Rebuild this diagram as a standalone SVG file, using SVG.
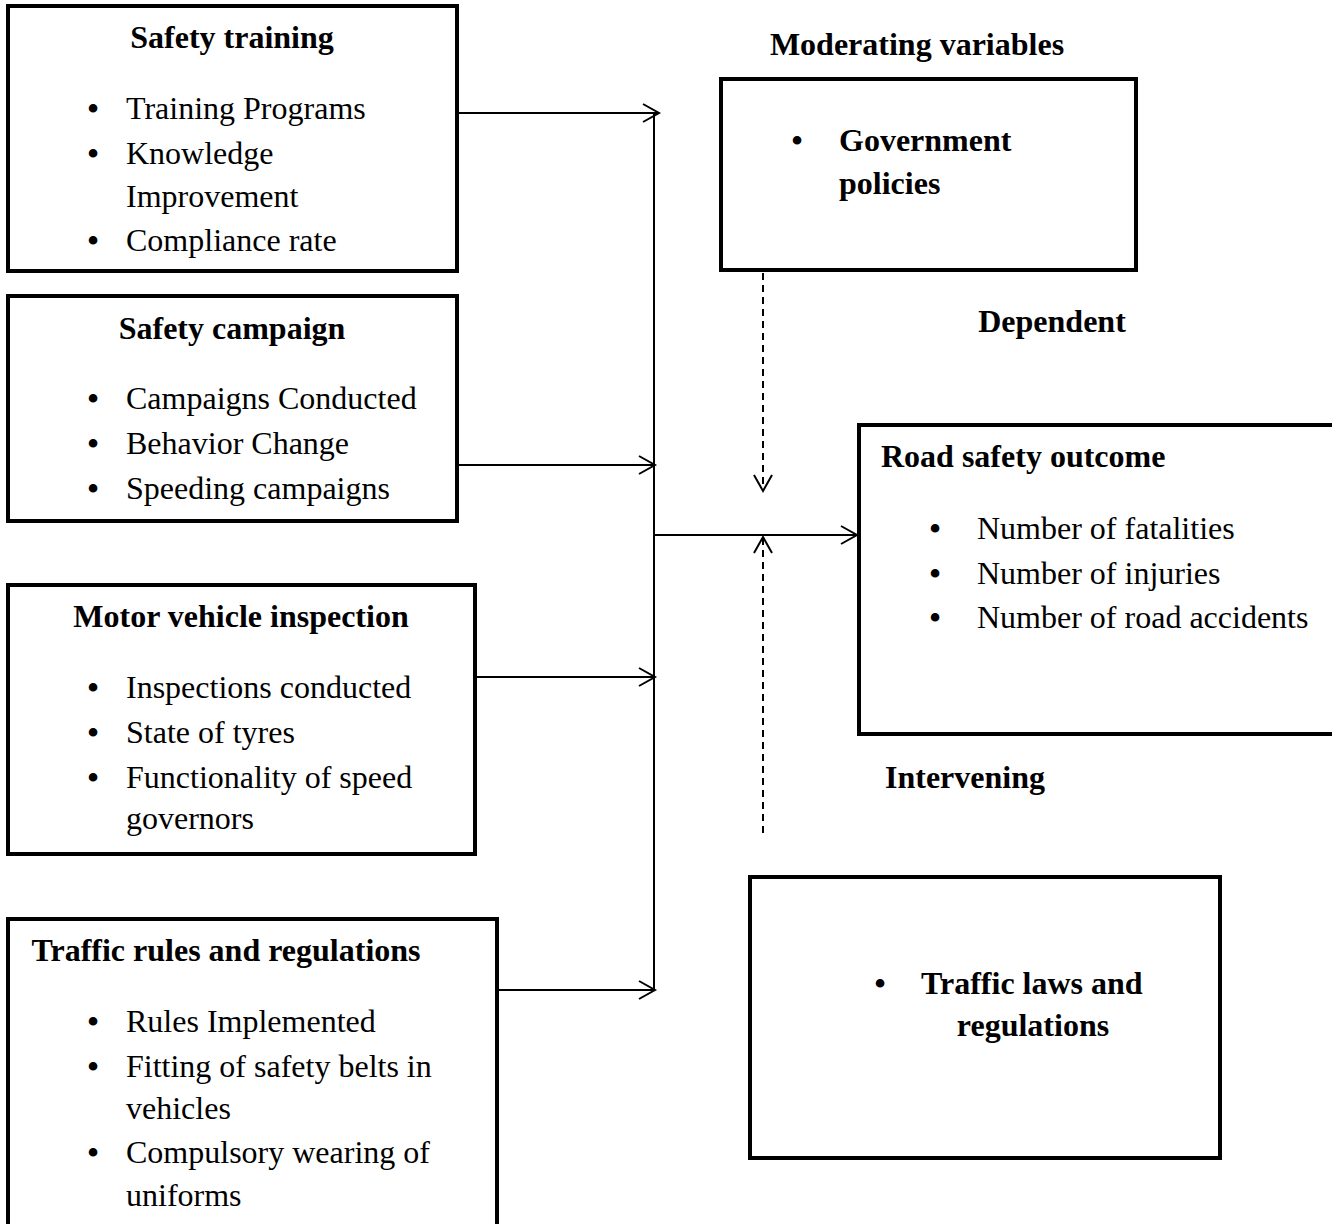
<svg xmlns="http://www.w3.org/2000/svg" width="1332" height="1224" viewBox="0 0 1332 1224">
<style>
text{font-family:"Liberation Serif","Times New Roman",serif;font-size:32px;fill:#000}
.b{font-weight:bold}
.d{font-size:36px;text-anchor:middle}
.box{fill:#fff;stroke:#000;stroke-width:4}
.ln{fill:none;stroke:#000;stroke-width:2}
.ds{fill:none;stroke:#000;stroke-width:2;stroke-dasharray:7,5}
</style>
<defs>
<marker id="ah" markerWidth="20" markerHeight="20" refX="17" refY="10" orient="auto" markerUnits="userSpaceOnUse">
<path d="M1,1 L17,10 L1,19" fill="none" stroke="#000" stroke-width="2"/>
</marker>
</defs>
<rect width="1332" height="1224" fill="#fff"/>
<g id="connectors">
<line class="ln" x1="654" y1="113" x2="654" y2="990"/>
<line class="ln" x1="459" y1="113" x2="659" y2="113" marker-end="url(#ah)"/>
<line class="ln" x1="458" y1="465" x2="655" y2="465" marker-end="url(#ah)"/>
<line class="ln" x1="476" y1="677" x2="655" y2="677" marker-end="url(#ah)"/>
<line class="ln" x1="498" y1="990" x2="655" y2="990" marker-end="url(#ah)"/>
<line class="ln" x1="654" y1="535" x2="857" y2="535" marker-end="url(#ah)"/>
<line class="ds" x1="763" y1="273" x2="763" y2="491" marker-end="url(#ah)"/>
<line class="ds" x1="763" y1="833" x2="763" y2="537" marker-end="url(#ah)"/>
</g>
<g id="safety-training">
<rect class="box" x="8" y="6" width="449" height="265"/>
<text class="b" x="232" y="48" text-anchor="middle">Safety training</text>
<text class="d" x="93" y="121">•</text><text x="126" y="119">Training Programs</text>
<text class="d" x="93" y="166">•</text><text x="126" y="164">Knowledge</text>
<text x="126" y="207">Improvement</text>
<text class="d" x="93" y="253">•</text><text x="126" y="251">Compliance rate</text>
</g>
<g id="safety-campaign">
<rect class="box" x="8" y="296" width="449" height="225"/>
<text class="b" x="232" y="339" text-anchor="middle">Safety campaign</text>
<text class="d" x="93" y="411">•</text><text x="126" y="409">Campaigns Conducted</text>
<text class="d" x="93" y="456">•</text><text x="126" y="454">Behavior Change</text>
<text class="d" x="93" y="501">•</text><text x="126" y="499">Speeding campaigns</text>
</g>
<g id="motor-vehicle-inspection">
<rect class="box" x="8" y="585" width="467" height="269"/>
<text class="b" x="241" y="627" text-anchor="middle">Motor vehicle inspection</text>
<text class="d" x="93" y="700">•</text><text x="126" y="698">Inspections conducted</text>
<text class="d" x="93" y="745">•</text><text x="126" y="743">State of tyres</text>
<text class="d" x="93" y="790">•</text><text x="126" y="788">Functionality of speed</text>
<text x="126" y="829">governors</text>
</g>
<g id="traffic-rules">
<rect class="box" x="8" y="919" width="489" height="320"/>
<text class="b" x="226" y="961" text-anchor="middle">Traffic rules and regulations</text>
<text class="d" x="93" y="1034">•</text><text x="126" y="1032">Rules Implemented</text>
<text class="d" x="93" y="1079">•</text><text x="126" y="1077">Fitting of safety belts in</text>
<text x="126" y="1119">vehicles</text>
<text class="d" x="93" y="1165">•</text><text x="126" y="1163">Compulsory wearing of</text>
<text x="126" y="1206">uniforms</text>
</g>
<g id="moderating">
<text class="b" x="917" y="55" text-anchor="middle">Moderating variables</text>
<rect class="box" x="721" y="79" width="415" height="191"/>
<text class="d" x="797" y="153">•</text>
<text class="b" x="839" y="151">Government</text>
<text class="b" x="839" y="194">policies</text>
</g>
<g id="dependent">
<text class="b" x="1052" y="332" text-anchor="middle">Dependent</text>
<rect class="box" x="859" y="425" width="480" height="309"/>
<text class="b" x="881" y="467">Road safety outcome</text>
<text class="d" x="935" y="541">•</text><text x="977" y="539">Number of fatalities</text>
<text class="d" x="935" y="586">•</text><text x="977" y="584">Number of injuries</text>
<text class="d" x="935" y="630">•</text><text x="977" y="628">Number of road accidents</text>
</g>
<g id="intervening">
<text class="b" x="965" y="788" text-anchor="middle">Intervening</text>
<rect class="box" x="750" y="877" width="470" height="281"/>
<text class="d" x="880" y="996">•</text>
<text class="b" x="921" y="994">Traffic laws and</text>
<text class="b" x="1033" y="1036" text-anchor="middle">regulations</text>
</g>
</svg>
